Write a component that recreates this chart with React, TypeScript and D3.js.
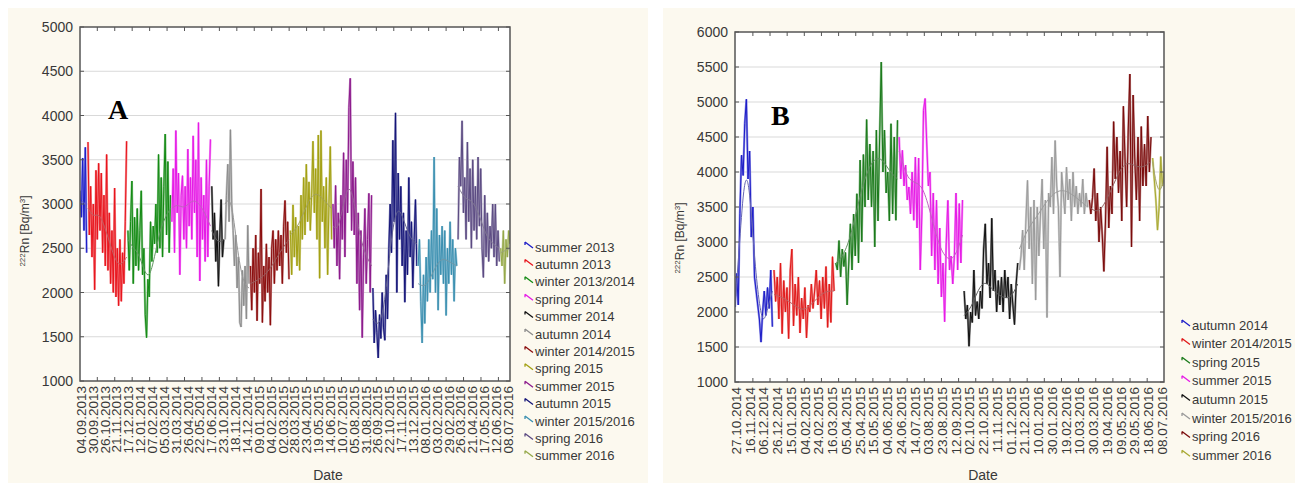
import React from "react";
import * as d3 from "d3";

// ---------------- Panel A data ----------------
const seasonNamesA = [
  "summer 2013", "autumn 2013", "winter 2013/2014", "spring 2014", "summer 2014",
  "autumn 2014", "winter 2014/2015", "spring 2015", "summer 2015", "autumn 2015",
  "winter 2015/2016", "spring 2016", "summer 2016",
];
const seasonColorsA = [
  "#1c1cc8", "#e8141c", "#138a13", "#e619e6", "#111111", "#8c8c8c", "#8b0d0d",
  "#a3a012", "#8c1a8c", "#141478", "#3a8fb0", "#5b4a82", "#95a848",
];

const aSummer2013 = [3150, 2850, 3520, 2700, 3640, 2450];
const aAutumn2013 = [3700, 2650, 3200, 2400, 3000, 2030, 3380, 2600, 3460, 2700, 3350, 2450, 3100, 2300, 3560, 2250, 2900, 2100, 2700, 2000, 3180, 1950, 2500, 1850, 2600, 1900, 2450, 2100, 2800, 3710];
const aWinter1314 = [2700, 2250, 2800, 3260, 2100, 2850, 2300, 2950, 2250, 2700, 3150, 2200, 2500, 1750, 1490, 2150, 1950, 2800, 2350, 2750, 2550, 3000, 2450, 3560, 2500, 3300, 2400, 3200, 3790, 2650, 3480, 2450, 3100];
const aSpring2014 = [2800, 3400, 2450, 3830, 2900, 3350, 2200, 3100, 3320, 2600, 3200, 2500, 3620, 2750, 3300, 2600, 3770, 2900, 3500, 2400, 3920, 2130, 3300, 2600, 3100, 2350, 3500, 2400, 3200, 3730];
const aSummer2014 = [3200, 2600, 2900, 2350, 2700, 2070, 2650, 3050, 2400, 2600];
const aAutumn2014 = [2600, 3100, 3450, 2800, 3840, 3000, 2700, 2300, 2650, 2050, 2400, 1660, 1610, 2250, 1850, 2300, 1700, 2760, 2100];
const aWinter1415 = [2300, 1800, 2500, 2000, 2650, 1680, 2450, 2100, 3170, 1660, 2300, 1900, 2550, 2000, 2400, 1630, 2500, 2700, 2100, 2600, 2250, 2700, 2300, 2650, 2100, 2750, 3040, 2450, 2800, 2150];
const aSpring2015 = [2700, 2200, 2990, 2400, 2850, 2300, 2750, 2250, 3100, 2600, 3300, 2650, 3450, 2800, 3250, 2700, 3100, 3710, 2900, 3400, 2600, 3780, 2160, 3830, 2800, 3200, 2500, 3300, 2200, 3000, 3650, 2600];
const aSummer2015 = [3000, 2500, 3210, 2300, 2900, 2150, 3100, 2600, 3580, 2400, 3500, 2900, 4090, 4420, 2700, 3480, 2650, 3300, 2100, 2900, 1800, 2700, 1490, 2400, 2950, 2100, 2600, 3120, 2000, 3100];
const aAutumn2015 = [2050, 1430, 1800, 1550, 1260, 1750, 1480, 2000, 1600, 1460, 2200, 1700, 2500, 3000, 2450, 3720, 2800, 4030, 2000, 3350, 2600, 3200, 2300, 2900, 1890, 2700, 2200, 3300, 2400, 2800, 2050, 2600, 3050, 2300];
const aWinter1516 = [2300, 2600, 1900, 1430, 2200, 1650, 2400, 1900, 2600, 2000, 2700, 2150, 3530, 2000, 2950, 1800, 2650, 2200, 2750, 2100, 2700, 1740, 2500, 2100, 2800, 2200, 2600, 1900, 2500, 2300];
const aSpring2016 = [2600, 3530, 3200, 3940, 2900, 3300, 2600, 3700, 2800, 3400, 2500, 3500, 2700, 3200, 2600, 3530, 2750, 3400, 2500, 2170, 3100, 2400, 2900, 2350, 2750, 2500, 3000, 2400, 3000, 2300, 2700, 2350];
const aSummer2016 = [2500, 2300, 2700, 2100, 2600, 2400, 2700, 2550];

const aSummer2013Mean = [3000, 3050, 2950];
const aAutumn2013Mean = [2950, 2850, 2900, 2750, 2550, 2350, 2300, 2400];
const aWinter1314Mean = [2600, 2500, 2450, 2250, 2150, 2400, 2700, 2850, 2950];
const aSpring2014Mean = [2950, 3000, 2950, 3000, 3050, 3000, 2900, 2750];
const aSummer2014Mean = [2700, 2550, 2600];
const aAutumn2014Mean = [3000, 3100, 2500, 2100, 2050];
const aWinter1415Mean = [2100, 2150, 2250, 2450, 2600];
const aSpring2015Mean = [2650, 2750, 3000, 3150, 3050, 2950];
const aSummer2015Mean = [2750, 2700, 2950, 3200, 3150, 2800, 2550, 2400, 2300];
const aAutumn2015Mean = [1700, 1600, 1900, 2700, 3000, 2800, 2600, 2550];
const aWinter1516Mean = [2100, 2050, 2250, 2400, 2350, 2300];
const aSpring2016Mean = [3200, 3050, 3050, 2900, 2650, 2550, 2500];
const aSummer2016Mean = [2450, 2500];

const datesA = [
  "04.09.2013", "30.09.2013", "26.10.2013", "21.11.2013", "17.12.2013", "12.01.2014",
  "07.02.2014", "05.03.2014", "31.03.2014", "26.04.2014", "22.05.2014", "17.06.2014",
  "23.10.2014", "18.11.2014", "14.12.2014", "09.01.2015", "04.02.2015", "02.03.2015",
  "28.03.2015", "23.04.2015", "19.05.2015", "14.06.2015", "10.07.2015", "05.08.2015",
  "31.08.2015", "26.09.2015", "22.10.2015", "17.11.2015", "13.12.2015", "08.01.2016",
  "03.02.2016", "29.02.2016", "26.03.2016", "21.04.2016", "17.05.2016", "12.06.2016",
  "08.07.2016",
];

// ---------------- Panel B data ----------------
const seasonNamesB = [
  "autumn 2014", "winter 2014/2015", "spring 2015", "summer 2015",
  "autumn 2015", "winter 2015/2016", "spring 2016", "summer 2016",
];
const seasonColorsB = [
  "#1c1cc8", "#e01818", "#1a7a1a", "#e619e6", "#111111", "#9a9a9a", "#7a0a0a", "#a8a830",
];

const bAutumn2014 = [2070, 2550, 2100, 3410, 4240, 3950, 4690, 5040, 3900, 4300, 3070, 3500, 2500, 2300, 2100, 1900, 1570, 2000, 2300, 1950, 2350, 2050, 2600, 1790];
const bWinter1415 = [2600, 2150, 2500, 1900, 2700, 1690, 2450, 2000, 2350, 1620, 2600, 2900, 1800, 2400, 1950, 2500, 1700, 2200, 1900, 2350, 1630, 2100, 2000, 2400, 2050, 2300, 2600, 2100, 2450, 1900, 2500, 2050, 2650, 1780, 2400, 1850, 2790, 2300];
const bSpring2015 = [2700, 2600, 3020, 2500, 2900, 2650, 2850, 2100, 2700, 3260, 2600, 3400, 2800, 3690, 2700, 4170, 3000, 4250, 3500, 4750, 3600, 4400, 3500, 4300, 2930, 4600, 3300, 4500, 5570, 4000, 4600, 3700, 4000, 3300, 4690, 3400, 4500, 3310, 4740];
const bSummer2015 = [4500, 3900, 4310, 3800, 4100, 3600, 3786, 3400, 4000, 3310, 4214, 3200, 4200, 2600, 3400, 4880, 5050, 4400, 3800, 4000, 2800, 3700, 2600, 3600, 2400, 3200, 2214, 2700, 1860, 3000, 3595, 2600, 2800, 2400, 2800, 3700, 2600, 3550, 2700, 3600];
const bAutumn2015 = [2300, 1900, 2100, 1510, 2000, 1850, 2600, 1950, 2150, 1900, 2300, 2050, 2900, 3260, 2400, 2700, 2200, 3340, 2300, 2600, 2000, 2450, 2100, 2500, 2000, 2600, 2200, 2500, 1900, 2400, 2100, 1820, 2400, 2700];
const bWinter1516 = [2600, 2800, 3170, 2600, 3300, 3880, 2900, 3500, 2400, 3600, 2170, 3500, 2800, 3400, 3900, 2900, 3600, 1920, 3700, 3500, 4214, 3400, 4450, 3800, 3500, 2500, 4000, 3700, 3400, 4070, 3600, 3900, 3300, 4000, 3500, 3800, 3400, 3700, 3500, 3900, 3400, 3700, 3500];
const bSpring2016 = [3600, 3400, 3630, 4050, 3300, 3700, 3000, 3500, 3100, 2580, 3300, 4360, 3200, 3800, 3400, 4720, 3900, 4500, 3700, 4300, 3300, 4940, 4200, 3500, 4600, 5400, 2930, 5100, 4200, 3600, 4500, 3300, 4650, 3800, 4400, 3800, 4800, 4000, 4500];
const bSummer2016 = [4200, 3900, 3600, 3170, 3500, 4220, 3800, 4000];

const bAutumn2014Mean = [2100, 3000, 3950, 3900, 2900, 2200, 1800, 2050, 2300];
const bWinter1415Mean = [2250, 2200, 2100, 2000, 2150, 2300, 2300];
const bSpring2015Mean = [2700, 2800, 3100, 3600, 4000, 4200, 4200, 4000, 3900];
const bSummer2015Mean = [4300, 3900, 3850, 3800, 3400, 2950, 2750, 2750, 3100];
const bAutumn2015Mean = [1950, 2050, 2300, 2450, 2350, 2250, 2200, 2200, 2400];
const bWinter1516Mean = [2900, 3200, 3350, 3550, 3700, 3750, 3700, 3600, 3500];
const bSpring2016Mean = [3500, 3400, 3600, 3900, 4150, 4100, 4050, 4150];
const bSummer2016Mean = [4150, 3800, 3700, 3900];

const datesB = [
  "27.10.2014", "16.11.2014", "06.12.2014", "26.12.2014", "15.01.2015", "04.02.2015",
  "24.02.2015", "16.03.2015", "05.04.2015", "25.04.2015", "15.05.2015", "04.06.2015",
  "24.06.2015", "14.07.2015", "03.08.2015", "23.08.2015", "12.09.2015", "02.10.2015",
  "22.10.2015", "11.11.2015", "01.12.2015", "21.12.2015", "10.01.2016", "30.01.2016",
  "19.02.2016", "10.03.2016", "30.03.2016", "19.04.2016", "09.05.2016", "29.05.2016",
  "18.06.2016", "08.07.2016",
];

const valuesA = [aSummer2013, aAutumn2013, aWinter1314, aSpring2014, aSummer2014, aAutumn2014, aWinter1415, aSpring2015, aSummer2015, aAutumn2015, aWinter1516, aSpring2016, aSummer2016];
const meansA = [aSummer2013Mean, aAutumn2013Mean, aWinter1314Mean, aSpring2014Mean, aSummer2014Mean, aAutumn2014Mean, aWinter1415Mean, aSpring2015Mean, aSummer2015Mean, aAutumn2015Mean, aWinter1516Mean, aSpring2016Mean, aSummer2016Mean];
const valuesB = [bAutumn2014, bWinter1415, bSpring2015, bSummer2015, bAutumn2015, bWinter1516, bSpring2016, bSummer2016];
const meansB = [bAutumn2014Mean, bWinter1415Mean, bSpring2015Mean, bSummer2015Mean, bAutumn2015Mean, bWinter1516Mean, bSpring2016Mean, bSummer2016Mean];

type PanelProps = {
  id: string;
  letter: string;
  names: string[];
  colors: string[];
  values: number[][];
  means: number[][];
  dates: string[];
  yMax: number;
  bg: [number, number, number, number];
  left: number; right: number; top: number; bottom: number;
  tickStart: number; tickStep: number;
  letterX: number; letterY: number;
  titleX: number; titleY: number;
  dateX: number; dateY: number;
  legendX: number; legendY: number; legendStep: number;
};

const FONT = "'Liberation Sans', Arial, Helvetica, sans-serif";
const TXT = "#383838";

function Panel(p: PanelProps) {
  const lengths = p.values.map((v) => v.length);
  const starts: number[] = [];
  lengths.reduce((acc, l) => { starts.push(acc); return acc + l; }, 0);
  const N = d3.sum(lengths);
  const x = d3.scaleLinear().domain([0, N - 1]).range([p.left, p.right]);
  const y = d3.scaleLinear().domain([1000, p.yMax]).range([p.bottom, p.top]);
  const yTicks = d3.range(1000, p.yMax + 1, 500);
  const xTicks = d3.range(p.tickStart, N - 1, p.tickStep);
  const xLab = d3.scalePoint<string>().domain(p.dates).range([p.left + 1, p.right - 2]);

  return (
    <g>
      <rect x={p.bg[0]} y={p.bg[1]} width={p.bg[2]} height={p.bg[3]} fill="#fcf9ef" />
      <rect x={p.left} y={p.top} width={p.right - p.left} height={p.bottom - p.top} fill="#ffffff" />
      <defs>
        <clipPath id={`clip-${p.id}`}>
          <rect x={p.left} y={p.top} width={p.right - p.left} height={p.bottom - p.top} />
        </clipPath>
      </defs>
      {yTicks.slice(1, -1).map((t) => (
        <line key={t} x1={p.left} x2={p.right} y1={y(t)} y2={y(t)} stroke="#d9d9d9" strokeWidth={1} />
      ))}
      <g clipPath={`url(#clip-${p.id})`}>
        {p.values.map((vals, si) => {
          const s0 = starts[si];
          const line = d3.line<number>().x((_, i) => x(s0 + i)).y((d) => y(d));
          const light = d3.interpolateRgb(p.colors[si], "#ffffff")(0.5);
          const meanCol = d3.interpolateRgb(p.colors[si], "#a0a0a0")(0.55);
          const m = p.means[si];
          const span = vals.length - 1;
          const meanLine = d3.line<number>()
            .x((_, i) => x(s0 + (m.length > 1 ? (i * span) / (m.length - 1) : 0)))
            .y((d) => y(d))
            .curve(d3.curveBasis);
          return (
            <g key={si}>
              <path d={line(vals) || ""} fill="none" stroke={light} strokeWidth={2.2} strokeLinejoin="miter" />
              <path d={line(vals) || ""} fill="none" stroke={p.colors[si]} strokeWidth={1} />
              <path d={meanLine(m) || ""} fill="none" stroke={meanCol} strokeWidth={1} />
            </g>
          );
        })}
      </g>
      {/* ticks */}
      {xTicks.map((t, i) => (
        <g key={i}>
          <line x1={x(t)} x2={x(t)} y1={p.top} y2={p.top + 4} stroke="#555" strokeWidth={1} />
          <line x1={x(t)} x2={x(t)} y1={p.bottom} y2={p.bottom - 4} stroke="#555" strokeWidth={1} />
        </g>
      ))}
      {yTicks.map((t) => (
        <g key={t}>
          <line x1={p.left} x2={p.left + 4} y1={y(t)} y2={y(t)} stroke="#555" strokeWidth={1} />
          <line x1={p.right} x2={p.right - 4} y1={y(t)} y2={y(t)} stroke="#555" strokeWidth={1} />
        </g>
      ))}
      <rect x={p.left} y={p.top} width={p.right - p.left} height={p.bottom - p.top} fill="none" stroke="#555" strokeWidth={1.5} />
      {/* y labels */}
      {yTicks.map((t) => (
        <text key={t} x={p.left - 7} y={y(t)} dy="0.36em" textAnchor="end" fontSize={14} fill={TXT} fontFamily={FONT}>
          {t}
        </text>
      ))}
      {/* x labels */}
      {p.dates.map((d) => (
        <text key={d} transform={`translate(${xLab(d)},${p.bottom + 5}) rotate(-90)`} textAnchor="end" dy="0.36em"
          fontSize={13.5} fill={TXT} fontFamily={FONT}>
          {d}
        </text>
      ))}
      {/* axis titles */}
      <text transform={`translate(${p.titleX},${p.titleY}) rotate(-90)`} textAnchor="middle" fontSize={12} fill={TXT} fontFamily={FONT}>
        <tspan fontSize={8} dy={-4}>222</tspan>
        <tspan dy={4}>Rn [Bq/m</tspan>
        <tspan fontSize={8} dy={-4}>3</tspan>
        <tspan dy={4}>]</tspan>
      </text>
      <text x={p.dateX} y={p.dateY} textAnchor="middle" fontSize={14} fill={TXT} fontFamily={FONT}>Date</text>
      <text x={p.letterX} y={p.letterY} fontSize={28} fontWeight="bold" fill="#000" fontFamily="'Liberation Serif', 'Times New Roman', serif">
        {p.letter}
      </text>
      {/* legend */}
      {p.names.map((n, i) => {
        const ly = p.legendY + i * p.legendStep;
        return (
          <g key={n}>
            <path d={`M${p.legendX},${ly - 5} L${p.legendX + 8},${ly + 1} M${p.legendX},${ly - 5} L${p.legendX},${ly - 2}`}
              fill="none" stroke={p.colors[i]} strokeWidth={1.3} />
            <text x={p.legendX + 10} y={ly} dy="0.36em" fontSize={13} fill={TXT} fontFamily={FONT}>{n}</text>
          </g>
        );
      })}
    </g>
  );
}

export default function App() {
  return (
    <svg width={1295} height={485} style={{ position: "absolute", left: 0, top: 0, background: "#ffffff" }}>
      <Panel id="A" letter="A" names={seasonNamesA} colors={seasonColorsA} values={valuesA} means={meansA}
        dates={datesA} yMax={5000} bg={[8, 8, 640, 475]}
        left={80} right={510} top={27} bottom={381}
        tickStart={13} tickStep={13.1}
        letterX={108} letterY={119} titleX={29} titleY={231} dateX={328} dateY={480}
        legendX={525} legendY={247} legendStep={17.4} />
      <Panel id="B" letter="B" names={seasonNamesB} colors={seasonColorsB} values={valuesB} means={meansB}
        dates={datesB} yMax={6000} bg={[663, 8, 632, 475]}
        left={735} right={1164} top={32} bottom={382}
        tickStart={11} tickStep={10.55}
        letterX={771} letterY={125} titleX={684} titleY={238} dateX={983} dateY={480}
        legendX={1182} legendY={325} legendStep={18.6} />
    </svg>
  );
}
